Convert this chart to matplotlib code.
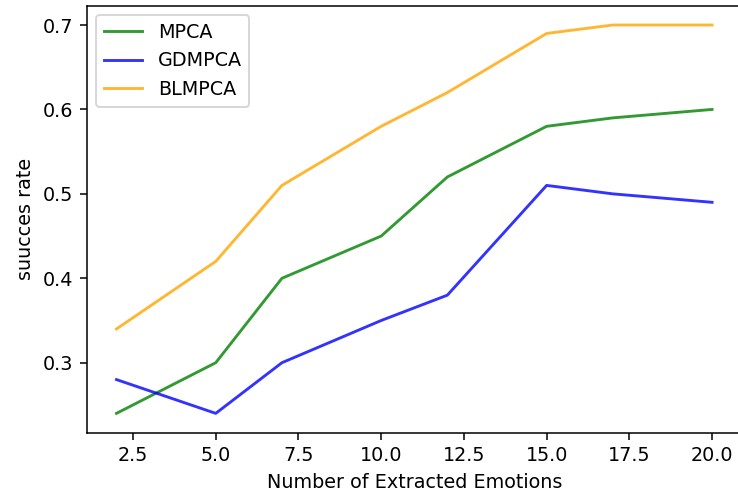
import matplotlib
matplotlib.use("Agg")
import matplotlib.pyplot as plt

n_emotions = [2, 5, 7, 10, 12, 15, 17, 20]
mpca = [0.24, 0.30, 0.40, 0.45, 0.52, 0.58, 0.59, 0.60]
gdmpca = [0.28, 0.24, 0.30, 0.35, 0.38, 0.51, 0.50, 0.49]
blmpca = [0.34, 0.42, 0.51, 0.58, 0.62, 0.69, 0.70, 0.70]

DPI = 138
fig = plt.figure(figsize=(738 / DPI, 495 / DPI), dpi=DPI)
ax = fig.add_axes([0.1175, 0.1257, 0.8877, 0.863])

ax.plot(n_emotions, mpca, color="green", alpha=0.8, label="MPCA")
ax.plot(n_emotions, gdmpca, color="blue", alpha=0.8, label="GDMPCA")
ax.plot(n_emotions, blmpca, color="orange", alpha=0.8, label="BLMPCA")

ax.set_xlabel("Number of Extracted Emotions")
ax.set_ylabel("suucces rate")
ax.legend(loc="upper left")

fig.savefig("out.png", dpi=DPI)
